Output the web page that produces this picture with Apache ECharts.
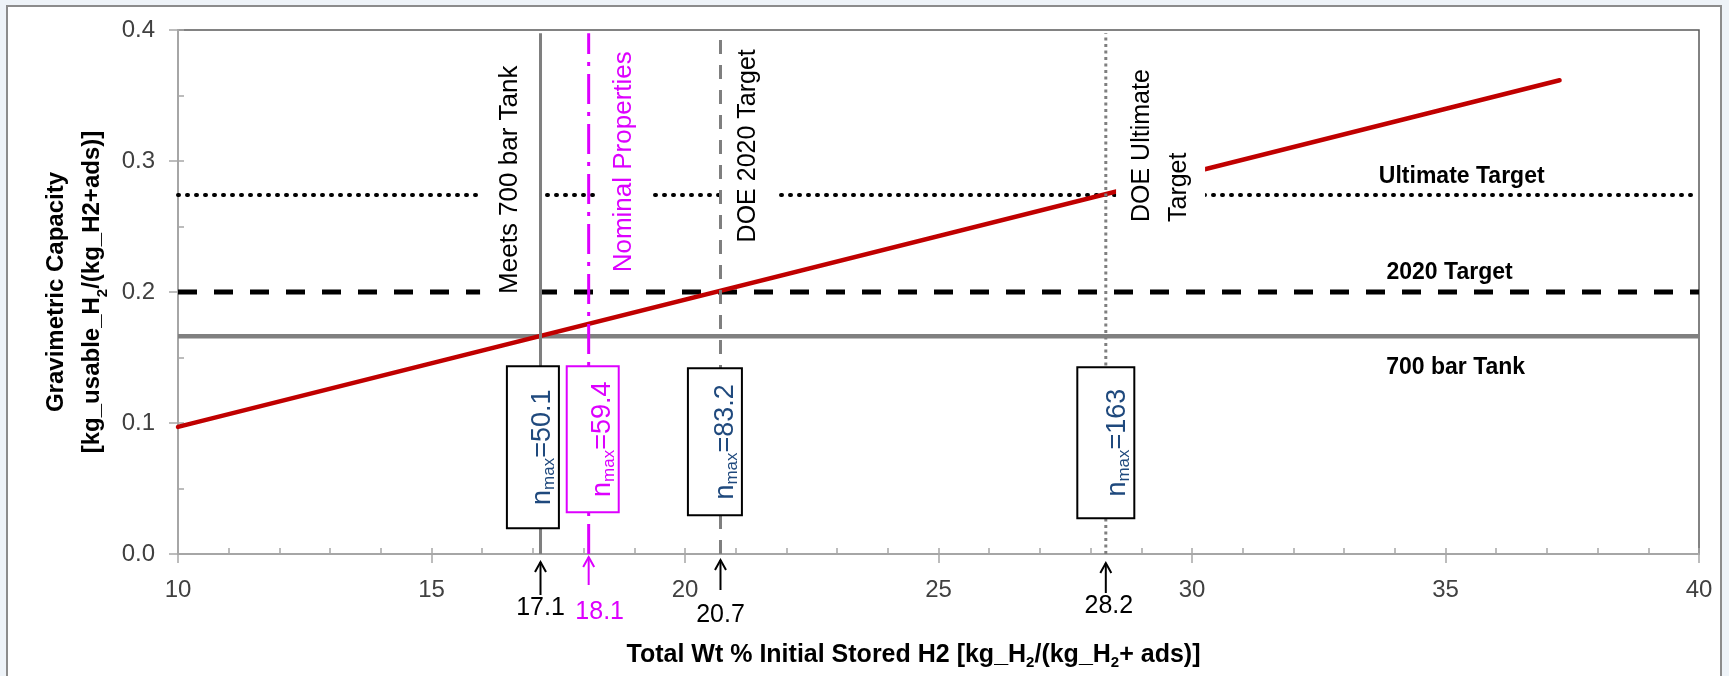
<!DOCTYPE html>
<html>
<head>
<meta charset="utf-8">
<script src="https://cdn.jsdelivr.net/npm/echarts@6/dist/echarts.min.js"></script>
<style>
html,body{margin:0;padding:0;background:#EEF3F8;}
#chart{width:1729px;height:676px;}
</style>
</head>
<body>
<div id="chart"></div>
<script>
// ---------------- data ----------------
const xTickValues = [10, 15, 20, 25, 30, 35, 40];
const yTickValues = [0.0, 0.1, 0.2, 0.3, 0.4];
const capacityX = [10, 37.25];
const capacityY = [0.097, 0.3616];
const targetNames = ['Ultimate Target', '2020 Target', '700 bar Tank'];
const targetValues = [0.274, 0.200, 0.1663];
const markerNames = ['Meets 700 bar Tank', 'Nominal Properties', 'DOE 2020 Target', 'DOE Ultimate\nTarget'];
const markerX = [17.15, 18.1, 20.7, 28.3];
const markerTop = 0.3975;
const markerLabels = ['17.1', '18.1', '20.7', '28.2'];
const nmaxValues = ['50.1', '59.4', '83.2', '163'];

// ---------------- layout / style (not data) ----------------
const FONT = '"Liberation Sans", Arial, sans-serif';
const MAGENTA = '#DD00FF';
const GRAY = '#7F7F7F';
const NBLUE = '#1F497D';
const annoAnchor = [[16.54, 0.2857], [18.79, 0.2994], [21.25, 0.3116], [29.38, 0.2496]];
const annoStyle = [
  {color: '#000', align: 'center', padding: [23.5, 5, 7.5, 5], fontSize: 26, lineHeight: 28},
  {color: MAGENTA, align: 'center', padding: [17, 5, 8, 5], fontSize: 26, lineHeight: 28},
  {color: '#000', align: 'center', padding: [19, 5, 10, 5], fontSize: 25, lineHeight: 28},
  {color: '#000', align: 'left', padding: [10.5, 5, 4.5, 5], fontSize: 25, lineHeight: 37}
];
const targetLabelAnchor = [[35.32, 0.2883], [35.08, 0.2150], [35.2, 0.1425]];
const nmaxAnchor = [[17.0, 0.0815], [18.18, 0.0876], [20.59, 0.0856], [28.3, 0.0850]];
const nmaxBox = [[162, 52], [146, 52], [147, 54], [151, 57]];
const markerLine = [
  {color: GRAY, type: 'solid', width: 3},
  {color: MAGENTA, type: [30, 8, 4, 8], width: 3},
  {color: GRAY, type: [14, 11], width: 3},
  {color: GRAY, type: [3, 3.5], width: 3}
];
const targetLine = [
  {color: '#000', type: [1, 8], width: 4, cap: 'round'},
  {color: '#000', type: [19, 17], width: 5, cap: 'butt'},
  {color: '#808080', type: 'solid', width: 4.5, cap: 'butt'}
];
const arrowStyle = [
  {color: '#000', tip: 8, tail: 41, dx: 0, ty: 54},
  {color: MAGENTA, tip: 3, tail: 31, dx: 11, ty: 58},
  {color: '#000', tip: 6, tail: 36, dx: 0, ty: 61},
  {color: '#000', tip: 9, tail: 39, dx: 3, ty: 52}
];

const measureCtx = document.createElement('canvas').getContext('2d');
function textWidth(str, size) {
  measureCtx.font = size + 'px ' + FONT;
  return measureCtx.measureText(str).width;
}

// custom series that places a rotated text box at a data anchor
function rotatedTextSeries(z, anchors, buildStyle) {
  return {
    type: 'custom', z: z, silent: true, clip: false,
    data: anchors.map((a, i) => [a[0], a[1], i]),
    renderItem: function (params, api) {
      const p = api.coord([api.value(0), api.value(1)]);
      return {type: 'text', x: p[0], y: p[1], rotation: Math.PI / 2, style: buildStyle(params.dataIndex)};
    }
  };
}

// ---------------- series ----------------
const series = [];

targetValues.forEach((v, i) => {
  series.push({
    type: 'line', z: 1, symbol: 'none', silent: true,
    data: [[xTickValues[0], v], [xTickValues[xTickValues.length - 1], v]],
    lineStyle: {color: targetLine[i].color, width: targetLine[i].width, type: targetLine[i].type, cap: targetLine[i].cap}
  });
});

series.push({
  type: 'line', z: 1, symbol: 'none', silent: true,
  data: capacityX.map((x, i) => [x, capacityY[i]]),
  lineStyle: {color: '#C00000', width: 4.5, cap: 'round'}
});

// annotation labels with white boxes
series.push(rotatedTextSeries(2, annoAnchor, i => ({
  text: markerNames[i], fill: annoStyle[i].color,
  fontFamily: FONT, fontSize: annoStyle[i].fontSize, lineHeight: annoStyle[i].lineHeight,
  align: annoStyle[i].align, verticalAlign: 'middle',
  backgroundColor: '#ffffff', padding: annoStyle[i].padding
})));

// right-side bold labels
series.push({
  type: 'custom', z: 2, silent: true, clip: false,
  data: targetLabelAnchor.map((a, i) => [a[0], a[1], i]),
  renderItem: function (params, api) {
    const p = api.coord([api.value(0), api.value(1)]);
    return {type: 'text', x: p[0], y: p[1], style: {
      text: targetNames[params.dataIndex], fill: '#000', fontFamily: FONT, fontWeight: 'bold',
      fontSize: 23, align: 'center', verticalAlign: 'middle'}};
  }
});

// vertical marker lines
markerX.forEach((x, i) => {
  series.push({
    type: 'line', z: 3, symbol: 'none', silent: true,
    data: [[x, 0], [x, markerTop]],
    lineStyle: {color: markerLine[i].color, width: markerLine[i].width, type: markerLine[i].type}
  });
});

// n_max boxes (rotated group: box + "n" + subscript "max" + "=value")
series.push({
  type: 'custom', z: 4, silent: true, clip: false,
  data: nmaxAnchor.map((a, i) => [a[0], a[1], i]),
  renderItem: function (params, api) {
    const i = params.dataIndex;
    const p = api.coord([api.value(0), api.value(1)]);
    const col = i === 1 ? MAGENTA : NBLUE;
    const L = nmaxBox[i][0], C = nmaxBox[i][1];
    const parts = [['n', 27, 0], ['max', 17, 3], ['=' + nmaxValues[i], 27, 0]];
    const widths = parts.map(q => textWidth(q[0], q[1]));
    const T = widths.reduce((a, b) => a + b, 0);
    const base = C / 2 - 7;
    let x = -T / 2;
    const children = [{
      type: 'rect', shape: {x: -L / 2, y: -C / 2, width: L, height: C},
      style: {fill: '#ffffff', stroke: i === 1 ? MAGENTA : '#000', lineWidth: 2}
    }];
    parts.forEach((q, k) => {
      children.push({
        type: 'text', x: x, y: base + q[2] - 0.3465 * q[1],
        style: {text: q[0], fill: col, fontFamily: FONT, fontSize: q[1], align: 'left', verticalAlign: 'middle'}
      });
      x += widths[k];
    });
    return {type: 'group', x: p[0], y: p[1], rotation: Math.PI / 2, children: children};
  }
});

// arrows and values under the axis
series.push({
  type: 'custom', z: 5, silent: true, clip: false,
  data: markerX.map((x, i) => [x, i]),
  renderItem: function (params, api) {
    const i = params.dataIndex;
    const p = api.coord([api.value(0), 0]);
    const st = arrowStyle[i];
    const x = p[0], y0 = p[1];
    return {
      type: 'group',
      children: [
        {type: 'line', shape: {x1: x, y1: y0 + st.tip, x2: x, y2: y0 + st.tail},
         style: {stroke: st.color, lineWidth: 2}},
        {type: 'polyline', shape: {points: [[x - 5.5, y0 + st.tip + 10], [x, y0 + st.tip], [x + 5.5, y0 + st.tip + 10]]},
         style: {stroke: st.color, lineWidth: 2, fill: null}},
        {type: 'text', x: x + st.dx, y: y0 + st.ty,
         style: {text: markerLabels[i], fill: st.color, fontFamily: FONT, fontSize: 25,
                 align: 'center', verticalAlign: 'middle'}}
      ]
    };
  }
});

const chart = echarts.init(document.getElementById('chart'), null, {renderer: 'canvas'});
chart.setOption({
  animation: false,
  backgroundColor: '#EEF3F8',
  graphic: [{
    type: 'rect', z: -10, silent: true,
    shape: {x: 7, y: 6, width: 1714, height: 700},
    style: {fill: '#fff', stroke: '#8C8C8C', lineWidth: 2}
  }],
  grid: {left: 178, right: 30, top: 30, bottom: 122, show: true,
         borderColor: '#595959', borderWidth: 1.5, backgroundColor: 'transparent'},
  xAxis: [{
    type: 'value', min: xTickValues[0], max: xTickValues[xTickValues.length - 1],
    interval: xTickValues[1] - xTickValues[0], position: 'bottom',
    axisLine: {show: true, onZero: false, lineStyle: {color: '#A6A6A6', width: 2}},
    axisTick: {show: true, inside: false, length: 9, lineStyle: {color: '#A6A6A6', width: 1.5}},
    axisLabel: {color: '#404040', fontFamily: FONT, fontSize: 24, margin: 24},
    splitLine: {show: false},
    name: '{b|Total Wt % Initial Stored H2 [kg_H}{s|2}{b|/(kg_H}{s|2}{b|+ ads)]}',
    nameLocation: 'middle', nameGap: 86,
    nameTextStyle: {padding: [0, 50, 0, 0],
      rich: {b: {fontFamily: FONT, fontWeight: 'bold', fontSize: 25, color: '#000', lineHeight: 30},
             s: {fontFamily: FONT, fontWeight: 'bold', fontSize: 15, color: '#000', lineHeight: 20, verticalAlign: 'bottom'}}}
  }, {
    type: 'value', min: xTickValues[0], max: xTickValues[xTickValues.length - 1], interval: 1,
    position: 'bottom', axisLine: {show: false}, axisLabel: {show: false}, splitLine: {show: false},
    axisTick: {show: true, inside: true, length: 6, lineStyle: {color: '#A6A6A6', width: 1.5}}
  }],
  yAxis: [{
    type: 'value', min: yTickValues[0], max: yTickValues[yTickValues.length - 1],
    interval: yTickValues[1] - yTickValues[0], position: 'left',
    axisLine: {show: true, onZero: false, lineStyle: {color: '#A6A6A6', width: 2}},
    axisTick: {show: true, inside: false, length: 9, lineStyle: {color: '#A6A6A6', width: 1.5}},
    axisLabel: {color: '#404040', fontFamily: FONT, fontSize: 24, margin: 23,
                formatter: v => v.toFixed(1)},
    splitLine: {show: false},
    name: '{b|Gravimetric Capacity}\n{b|[kg_usable_H}{s|2}{b|/(kg_H2+ads)]}',
    nameLocation: 'middle', nameGap: 55,
    nameTextStyle: {align: 'center',
      rich: {b: {fontFamily: FONT, fontWeight: 'bold', fontSize: 24, color: '#000', lineHeight: 36},
             s: {fontFamily: FONT, fontWeight: 'bold', fontSize: 15, color: '#000', lineHeight: 24, verticalAlign: 'bottom'}}}
  }, {
    type: 'value', min: yTickValues[0], max: yTickValues[yTickValues.length - 1], interval: 0.05,
    position: 'left', axisLine: {show: false}, axisLabel: {show: false}, splitLine: {show: false},
    axisTick: {show: true, inside: true, length: 6, lineStyle: {color: '#A6A6A6', width: 1.5}}
  }],
  series: series
});
</script>
</body>
</html>
